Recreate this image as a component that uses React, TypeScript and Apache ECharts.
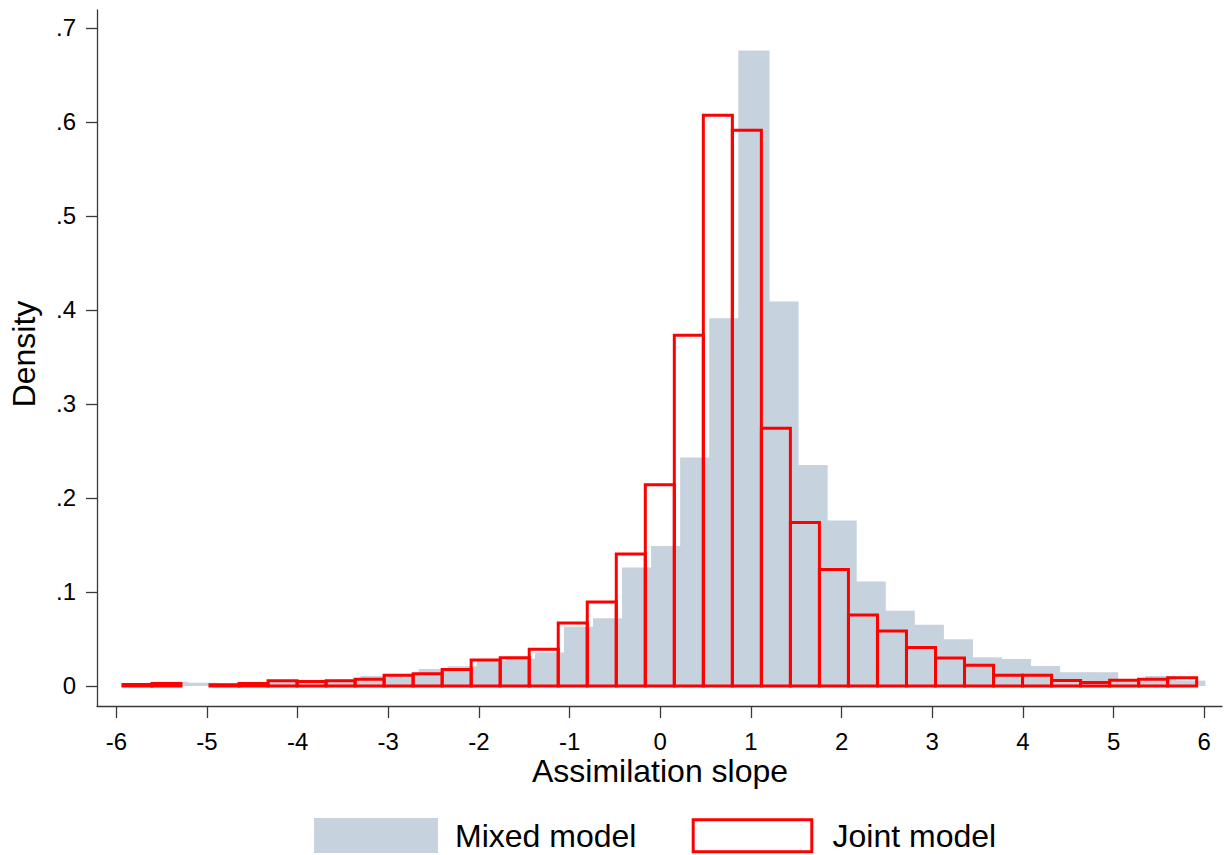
import React, { useEffect, useRef } from "react";
import * as echarts from "echarts";

// ---- tick positions and labels ----
const X_TICKS = [-6, -5, -4, -3, -2, -1, 0, 1, 2, 3, 4, 5, 6];
const X_TICK_LABELS = ["-6", "-5", "-4", "-3", "-2", "-1", "0", "1", "2", "3", "4", "5", "6"];
const Y_TICKS = [0, 0.1, 0.2, 0.3, 0.4, 0.5, 0.6, 0.7];
const Y_TICK_LABELS = ["0", ".1", ".2", ".3", ".4", ".5", ".6", ".7"];

// ---- Mixed model histogram (grey bars) ----
const MIXED_START = -5.5497;
const MIXED_STEP = 0.3205;
const MIXED_BAR_WIDTH = 0.345;
const MIXED_DENSITY = [
  0.0045, 0.0035, 0.003, 0.004, 0.005, 0.006, 0.007, 0.0105, 0.012, 0.018,
  0.021, 0.027, 0.029, 0.0355, 0.063, 0.072, 0.126, 0.149, 0.243, 0.391,
  0.676, 0.409, 0.235, 0.176, 0.111, 0.08, 0.065, 0.0496, 0.0305, 0.0287,
  0.0213, 0.0146, 0.0146, 0.006, 0.0106, 0.0057,
];

// ---- Joint model histogram (red outlines) ----
const JOINT_START = -5.927;
const JOINT_STEP = 0.3201;
const JOINT_DENSITY = [
  0.0015, 0.0027, 0, 0.0012, 0.0025, 0.0055, 0.0048, 0.0055, 0.0072, 0.0115,
  0.013, 0.0175, 0.0275, 0.03, 0.039, 0.067, 0.0894, 0.1405, 0.214, 0.373,
  0.607, 0.591, 0.274, 0.174, 0.124, 0.0755, 0.0585, 0.041, 0.0297, 0.022,
  0.0113, 0.0113, 0.0058, 0.0037, 0.006, 0.0072, 0.0087,
];

const SERIES_NAMES = ["Mixed model", "Joint model"];
const X_TITLE = "Assimilation slope";
const Y_TITLE = "Density";

const GREY = "#C6D2DE";
const RED = "#FF0000";
const AXIS_COLOR = "#3a3a3a";
const FONT = "'Liberation Sans', Arial, Helvetica, sans-serif";

const mixedBins = MIXED_DENSITY.map((d, i) => {
  const x0 = MIXED_START + i * MIXED_STEP;
  return [x0, x0 + MIXED_BAR_WIDTH, d];
});
const jointBins = JOINT_DENSITY.map((d, i) => {
  const x0 = JOINT_START + i * JOINT_STEP;
  return [x0, x0 + JOINT_STEP, d];
});

function labelFor(ticks: number[], labels: string[], v: number) {
  const i = ticks.findIndex((t) => Math.abs(t - v) < 1e-9);
  return i >= 0 ? labels[i] : "";
}

function makeRender(style: any) {
  return (params: any, api: any) => {
    const h = api.value(2);
    if (!h) return { type: "group", children: [] };
    const p0 = api.coord([api.value(0), h]);
    const p1 = api.coord([api.value(1), 0]);
    return {
      type: "rect",
      shape: { x: p0[0], y: p0[1], width: p1[0] - p0[0], height: p1[1] - p0[1] },
      style,
    };
  };
}

export default function App() {
  const ref = useRef<HTMLDivElement>(null);
  useEffect(() => {
    if (!ref.current) return;
    const chart = echarts.init(ref.current, null, { renderer: "svg" });
    const axisLineStyle = { color: AXIS_COLOR, width: 1.3 };
    chart.setOption({
      animation: false,
      backgroundColor: "#ffffff",
      grid: { left: 97, top: 10, width: 1125, height: 696, containLabel: false },
      xAxis: {
        type: "value",
        min: -6.213,
        max: 6.196,
        splitLine: { show: false },
        axisLine: { show: true, onZero: false, lineStyle: axisLineStyle },
        axisTick: { show: true, customValues: X_TICKS, length: 12, lineStyle: axisLineStyle },
        axisLabel: {
          customValues: X_TICKS,
          formatter: (v: number) => labelFor(X_TICKS, X_TICK_LABELS, v),
          fontSize: 24,
          color: "#000",
          fontFamily: FONT,
          margin: 23,
        },
      },
      yAxis: {
        type: "value",
        min: -0.0213,
        max: 0.719,
        splitLine: { show: false },
        axisLine: { show: true, onZero: false, lineStyle: axisLineStyle },
        axisTick: { show: true, customValues: Y_TICKS, length: 11, lineStyle: axisLineStyle },
        axisLabel: {
          customValues: Y_TICKS,
          formatter: (v: number) => labelFor(Y_TICKS, Y_TICK_LABELS, v),
          fontSize: 24,
          color: "#000",
          fontFamily: FONT,
          margin: 21,
        },
      },
      series: [
        {
          name: SERIES_NAMES[0],
          type: "custom",
          data: mixedBins,
          encode: { x: [0, 1], y: 2 },
          renderItem: makeRender({ fill: GREY }),
          silent: true,
        },
        {
          name: SERIES_NAMES[1],
          type: "custom",
          data: jointBins,
          encode: { x: [0, 1], y: 2 },
          renderItem: makeRender({ fill: "none", stroke: RED, lineWidth: 3 }),
          silent: true,
        },
      ],
      graphic: [
        {
          type: "text",
          x: 660,
          y: 771,
          style: { text: X_TITLE, fontSize: 32, fontFamily: FONT, fill: "#000", align: "center", verticalAlign: "middle" },
        },
        {
          type: "text",
          x: 24,
          y: 354,
          rotation: Math.PI / 2,
          style: { text: Y_TITLE, fontSize: 32, fontFamily: FONT, fill: "#000", align: "center", verticalAlign: "middle" },
        },
        {
          type: "rect",
          shape: { x: 314, y: 818, width: 124, height: 35 },
          style: { fill: GREY },
        },
        {
          type: "text",
          x: 455,
          y: 836,
          style: { text: SERIES_NAMES[0], fontSize: 32, fontFamily: FONT, fill: "#000", align: "left", verticalAlign: "middle" },
        },
        {
          type: "rect",
          shape: { x: 693.2, y: 819.8, width: 118.6, height: 32 },
          style: { fill: "none", stroke: RED, lineWidth: 3 },
        },
        {
          type: "text",
          x: 832.5,
          y: 836,
          style: { text: SERIES_NAMES[1], fontSize: 32, fontFamily: FONT, fill: "#000", align: "left", verticalAlign: "middle" },
        },
      ],
    });
    return () => chart.dispose();
  }, []);
  return (
    <div
      ref={ref}
      style={{ position: "fixed", left: 0, top: 0, width: 1225, height: 855, background: "#fff" }}
    />
  );
}
